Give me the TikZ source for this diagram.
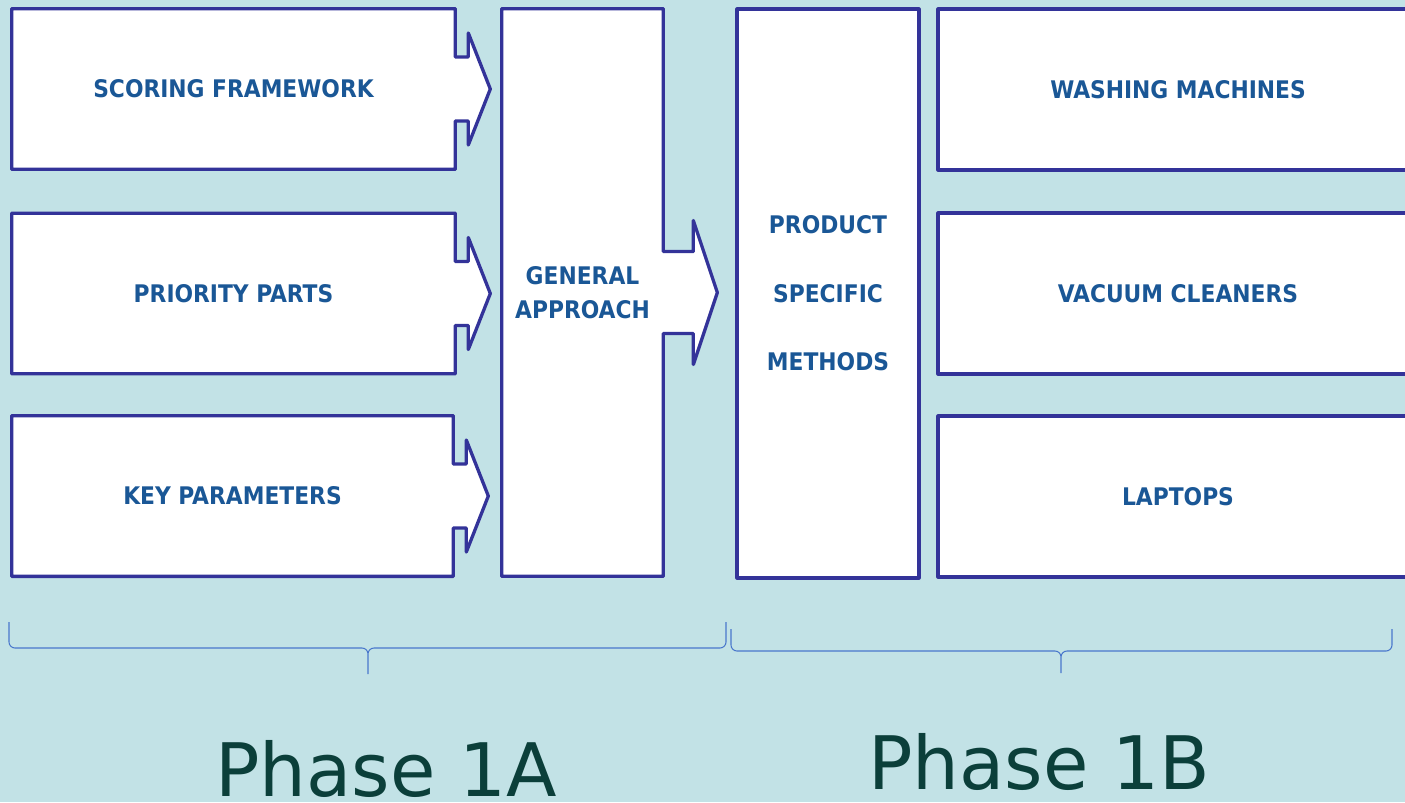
\documentclass[tikz,border=0pt]{standalone}
\usepackage{fontspec}
\setmainfont{DejaVu Sans}
\newfontfamily\condfont{DejaVu Sans Condensed}
\usetikzlibrary{positioning,calc}

\definecolor{paneblue}{HTML}{C2E2E6}
\definecolor{edgeblue}{HTML}{333399}
\definecolor{labelblue}{HTML}{1A5796}
\definecolor{bracecol}{HTML}{4A78CC}
\definecolor{phasegreen}{HTML}{0B3F3A}

\pgfdeclarelayer{bg}
\pgfsetlayers{bg,main}

\tikzset{
  px/.style={x=0.02cm,y=-0.02cm},
  boxtext/.style={font=\condfont\bfseries\fontsize{13.8}{16.5}\selectfont,
    text=labelblue, align=center, inner sep=0pt},
  boxline/.style={draw=edgeblue, line width=0.066cm, fill=white, line join=round},
  armbox/.style={boxtext, minimum width=8.86cm, minimum height=3.2cm},
  plainbox/.style={boxtext, boxline},
  phasebrace/.style={draw=bracecol, line width=0.6pt, rounded corners=0.12cm},
  phaselabel/.style={font=\fontsize{42}{50}\selectfont, text=phasegreen,
    anchor=base, inner sep=0pt}
}

% outline of a box with an arrow nub on its east side
% #1 node, #2 shaft half height, #3 shaft length, #4 head half height, #5 head length
\newcommand\nubbox[5]{%
  \draw[boxline] (#1.north west) -- (#1.north east) -- ($(#1.east)+(0,-#2)$)
    -- ++(#3,0) -- ++(0,#2-#4) -- ($(#1.east)+(#3+#5,0)$)
    -- ($(#1.east)+(#3,#4)$) -- ++(0,#2-#4) -- ($(#1.east)+(0,#2)$)
    -- (#1.south east) -- (#1.south west) -- cycle;}

\begin{document}
\begin{tikzpicture}[px]
  \useasboundingbox (0,0) rectangle (1405,802);

  % phase 1A inputs
  \node[armbox] (sf) at (233.5,89) {SCORING FRAMEWORK};
  \node[armbox] (pp) at (233.5,293.5) {PRIORITY PARTS};
  \node[armbox, minimum width=8.82cm] (kp) at (232.5,496) {KEY PARAMETERS};
  \node[boxtext, minimum width=3.22cm, minimum height=11.34cm] (ga) at (582.5,292.5)
    {GENERAL\\[3pt]APPROACH};

  % phase 1B
  \node[plainbox, minimum width=3.64cm, minimum height=11.38cm] (psm) at (828,293.5)
    {PRODUCT\\[22.5pt]SPECIFIC\\[22.5pt]METHODS};
  \node[plainbox, minimum width=9.6cm, minimum height=3.22cm] (wm) at (1178,89.5) {WASHING MACHINES};
  \node[plainbox, minimum width=9.6cm, minimum height=3.22cm] (vc) at (1178,293.5) {VACUUM CLEANERS};
  \node[plainbox, minimum width=9.6cm, minimum height=3.22cm] (lt) at (1178,496.5) {LAPTOPS};

  \begin{pgfonlayer}{bg}
    \fill[paneblue] (0,0) rectangle (1405,802);
    \nubbox{sf}{32}{13}{56}{22}
    \nubbox{pp}{32}{13}{56}{22}
    \nubbox{kp}{32}{13}{56}{22}
    \nubbox{ga}{41}{30}{72}{24}
  \end{pgfonlayer}

  % braces
  \coordinate (a1) at (9,622);
  \coordinate (a2) at (726,622);
  \coordinate (atip) at (368,674);
  \coordinate (b1) at (731,629);
  \coordinate (b2) at (1392,629);
  \coordinate (btip) at (1061,673);
  \draw[phasebrace] (a1) |- ($(atip)+(0,-26)$) -- (atip)
    (atip) -- ($(atip)+(0,-26)$) -| (a2);
  \draw[phasebrace] (b1) |- ($(btip)+(0,-22)$) -- (btip)
    (btip) -- ($(btip)+(0,-22)$) -| (b2);

  \node[phaselabel] (pa) at (386,796) {Phase 1A};
  \node[phaselabel] (pb) at (1039,789) {Phase 1B};
\end{tikzpicture}
\end{document}
